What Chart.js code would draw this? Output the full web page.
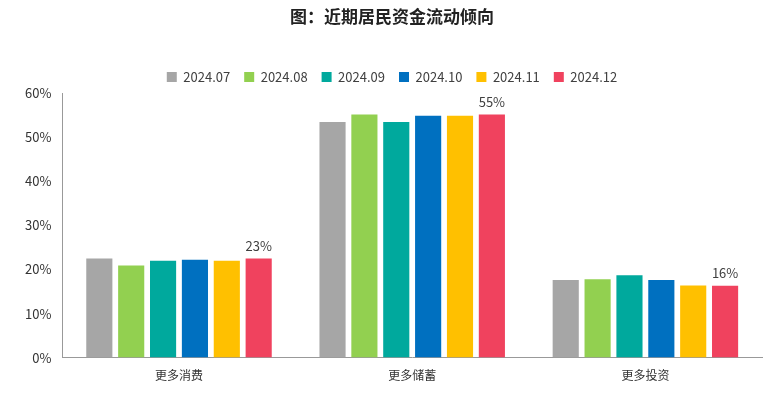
<!DOCTYPE html>
<html><head><meta charset="utf-8">
<script src="https://cdn.jsdelivr.net/npm/chart.js@4"></script>
<style>
body{margin:0;background:#fff;font-family:"Noto Sans CJK SC",sans-serif}
#wrap{width:780px;height:400px;position:relative}
</style></head>
<body><div id="wrap"><canvas id="c" width="780" height="400"></canvas></div>
<script>
// data
const categories = ['更多消费', '更多储蓄', '更多投资'];
const months = ['2024.07', '2024.08', '2024.09', '2024.10', '2024.11', '2024.12'];
const colors = ['#a6a6a6', '#92d050', '#00a99d', '#0070c0', '#ffc000', '#f0425e'];
const v0707 = [22.5, 53.5, 17.6];
const v0708 = [20.9, 55.2, 17.8];
const v0709 = [22.0, 53.5, 18.7];
const v0710 = [22.2, 54.9, 17.6];
const v0711 = [22.0, 54.9, 16.4];
const v0712 = [22.5, 55.2, 16.3];
const lastLabels = ['23%', '55%', '16%'];
const series = [v0707, v0708, v0709, v0710, v0711, v0712];

// label the last series only
const lastLabelPlugin = {
  id: 'lastLabel',
  afterDatasetsDraw(chart){
    const ctx = chart.ctx;
    const meta = chart.getDatasetMeta(series.length - 1);
    ctx.save();
    ctx.font = '13px "Noto Sans CJK SC", sans-serif';
    ctx.fillStyle = '#404040';
    ctx.textAlign = 'center';
    ctx.textBaseline = 'bottom';
    meta.data.forEach((bar, i) => ctx.fillText(lastLabels[i], bar.x, bar.y - 6));
    ctx.restore();
  }
};

new Chart(document.getElementById('c'), {
  type: 'bar',
  data: {
    labels: categories,
    datasets: series.map((d, i) => ({ label: months[i], data: d, backgroundColor: colors[i] }))
  },
  options: {
    responsive: false,
    animation: false,
    layout: { padding: { left: 22, right: 18, top: 0, bottom: 14 } },
    datasets: { bar: { categoryPercentage: 0.82, barPercentage: 0.82 } },
    plugins: {
      title: { display: true, text: '图：近期居民资金流动倾向', color: '#222',
        font: { size: 17, weight: 'bold', family: '"Noto Sans CJK SC", sans-serif' }, padding: { top: 6, bottom: 30 } },
      legend: { labels: { boxWidth: 10, boxHeight: 10, color: '#404040',
        font: { size: 13, family: '"Noto Sans CJK SC", sans-serif' }, padding: 14 } },
      tooltip: { enabled: false }
    },
    scales: {
      x: { grid: { display: false }, border: { color: '#999' },
        ticks: { color: '#333', font: { size: 12, family: '"Noto Sans CJK SC", sans-serif' } } },
      y: { min: 0, max: 60, grid: { display: false }, border: { color: '#999' },
        ticks: { stepSize: 10, callback: v => v + '%', color: '#333',
          font: { size: 13, family: '"Noto Sans CJK SC", sans-serif' } } }
    }
  },
  plugins: [lastLabelPlugin]
});
</script></body></html>
